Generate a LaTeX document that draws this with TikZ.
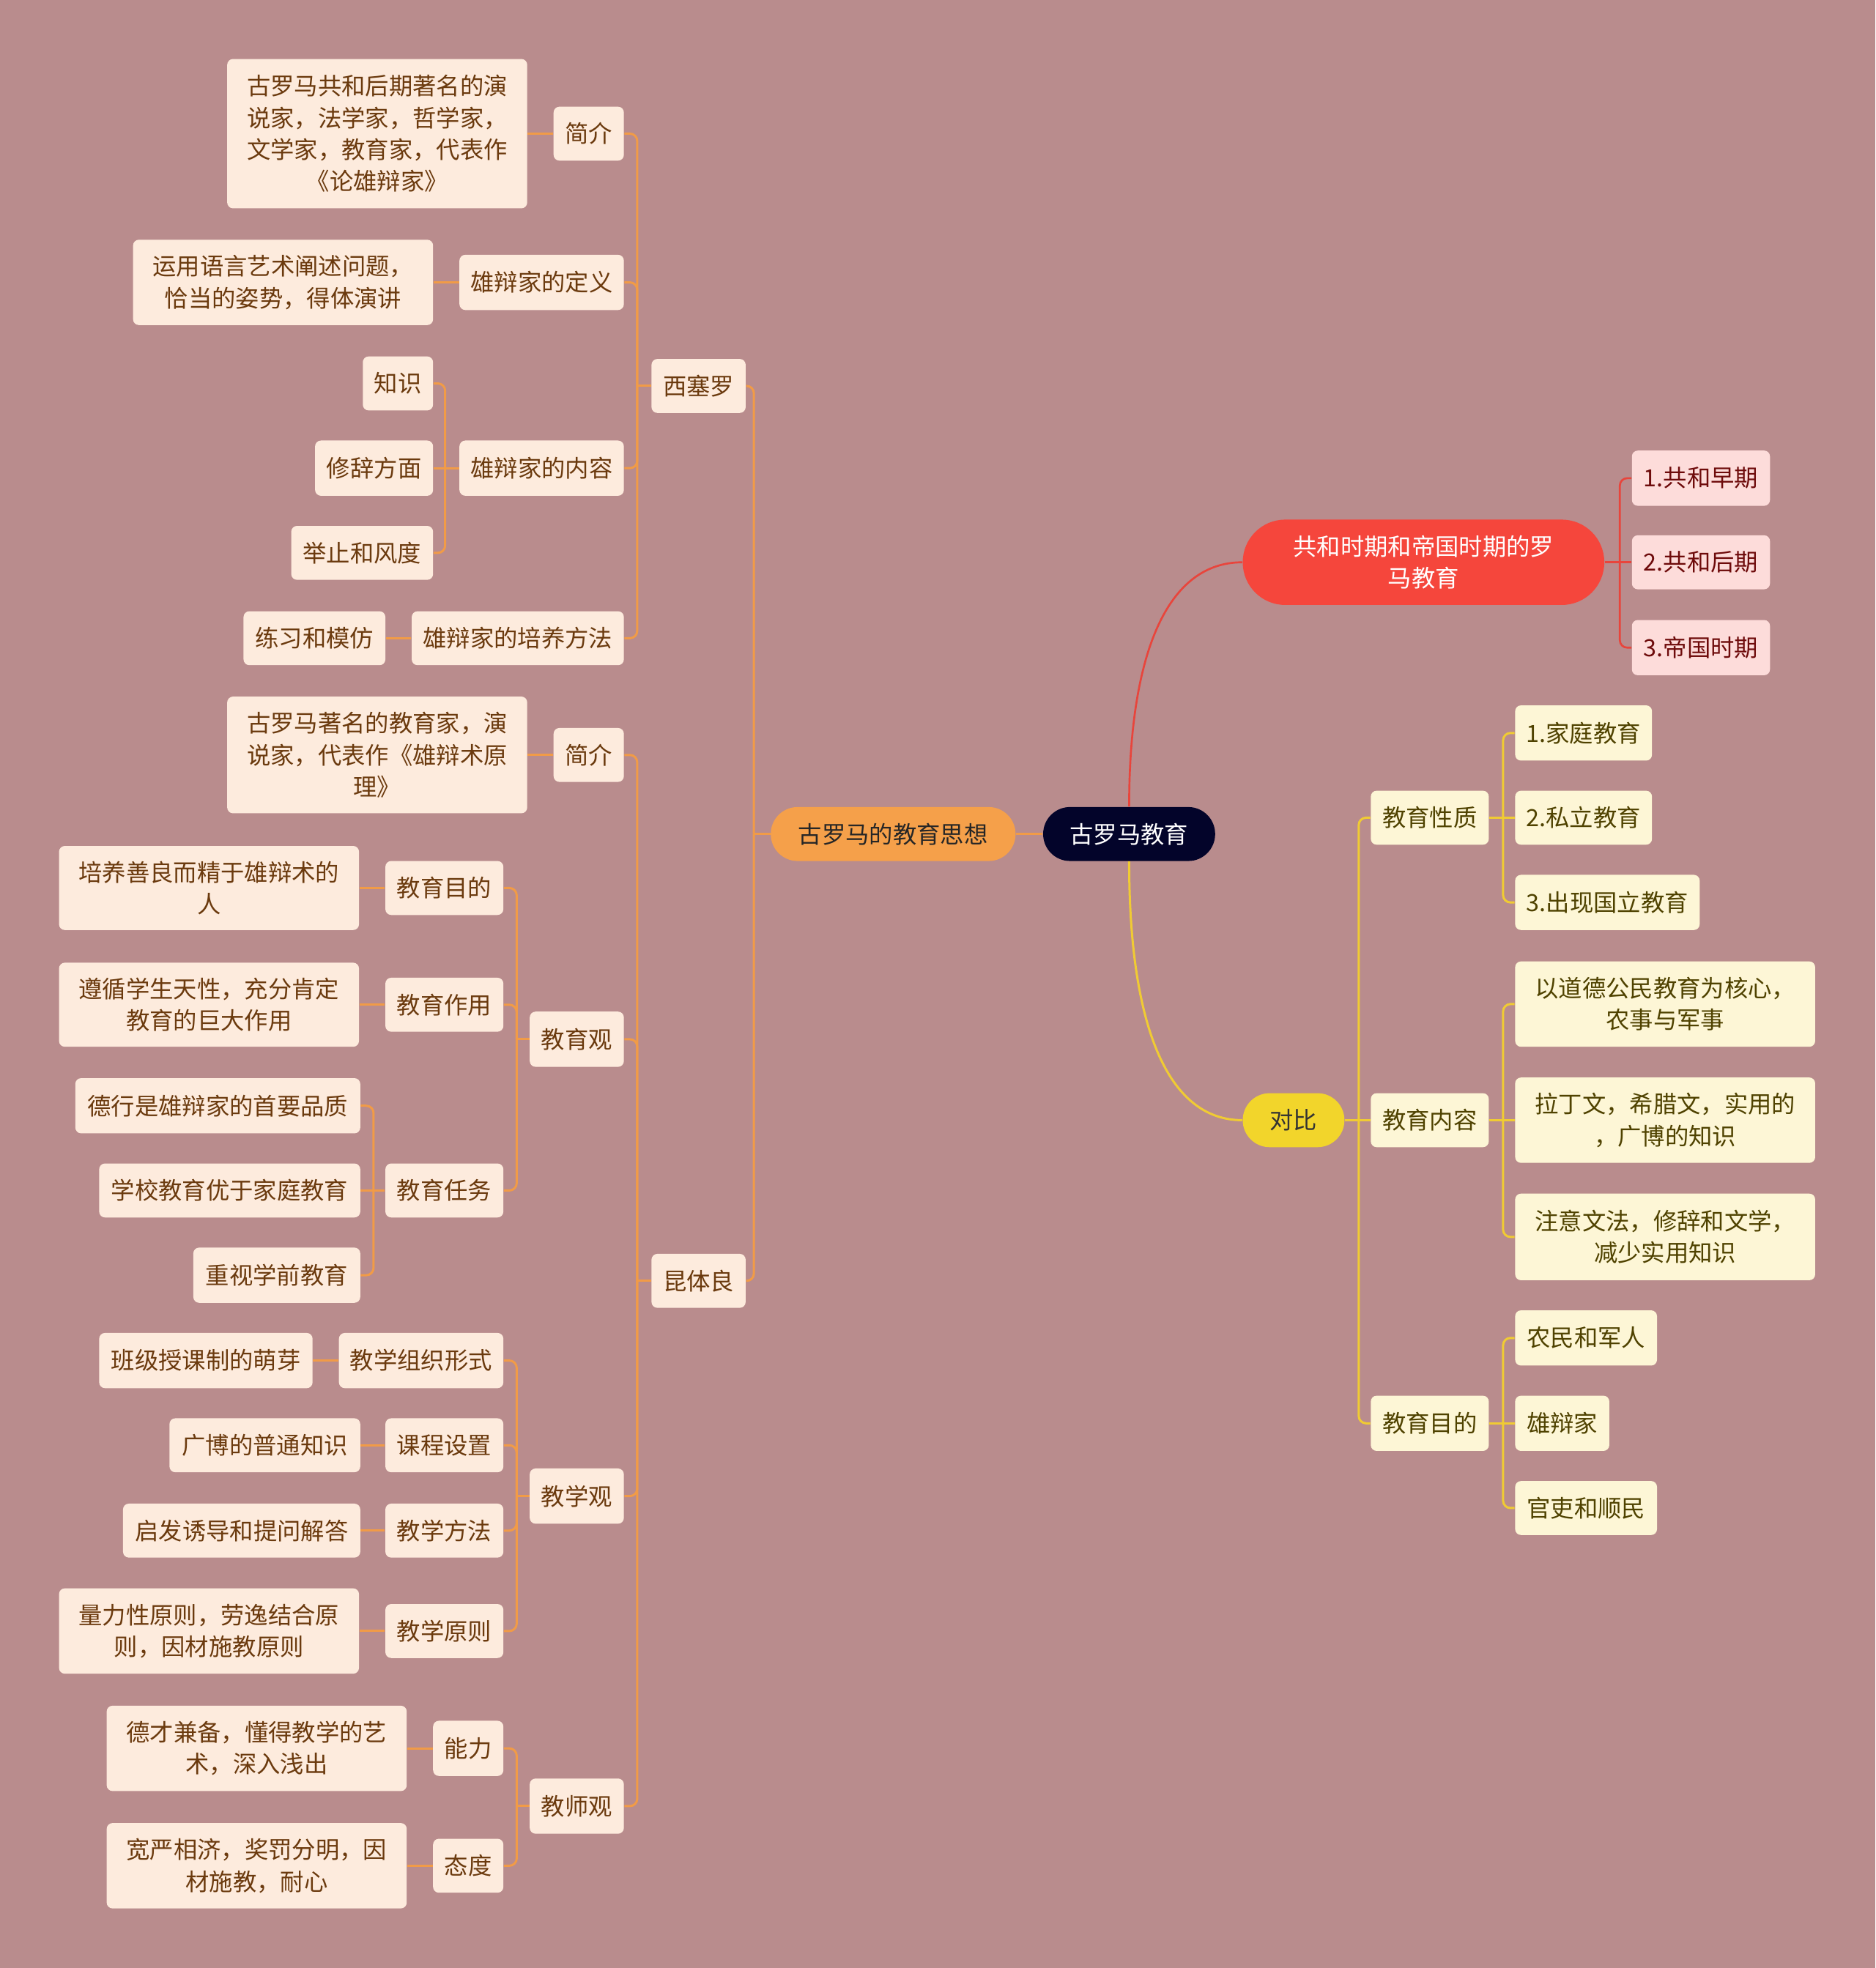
\documentclass[tikz,border=0pt]{standalone}
\usepackage{fontspec}
\setmainfont{Noto Sans CJK SC}
\definecolor{bg}{HTML}{B98C8D}
\definecolor{lfill}{HTML}{FDEBDD}
\definecolor{ltext}{HTML}{6B3A0E}
\definecolor{oline}{HTML}{F19B47}
\definecolor{ofill}{HTML}{F5A04A}
\definecolor{rootfill}{HTML}{03042A}
\definecolor{redfill}{HTML}{F5463C}
\definecolor{redline}{HTML}{E8453C}
\definecolor{rfill}{HTML}{FDDCDA}
\definecolor{rtext}{HTML}{6E0B0B}
\definecolor{yelfill}{HTML}{F2D52B}
\definecolor{yline}{HTML}{F0CB33}
\definecolor{yfill}{HTML}{FDF6D6}
\definecolor{ytext}{HTML}{4F4200}
\tikzset{
  base/.style={inner sep=0pt, align=center, font=\fontsize{9.7}{13}\selectfont},
  sz/.style 2 args={minimum width=#1*0.514pt, minimum height=#2*0.514pt},
  lb/.style={base, fill=lfill, text=ltext, rounded corners=2.4pt},
  rb/.style={base, fill=rfill, text=rtext, rounded corners=2.4pt},
  yb/.style={base, fill=yfill, text=ytext, rounded corners=2.4pt},
  rootn/.style={base, fill=rootfill, text=white, rounded corners=11pt},
  orn/.style={base, fill=ofill, text=black!85, rounded corners=11pt},
  redn/.style={base, fill=redfill, text=white, rounded corners=17.4pt},
  yeln/.style={base, fill=yelfill, text=black!80, rounded corners=11pt},
  lc/.style={draw=oline, line width=0.9pt, rounded corners=3pt},
  rc/.style={draw=redline, line width=0.8pt, rounded corners=3pt},
  yc/.style={draw=yline, line width=0.9pt, rounded corners=3pt},
}
\begin{document}
\begin{tikzpicture}[x=0.514pt,y=-0.514pt]
\fill[bg] (0,0) rectangle (1494,1568);
\useasboundingbox (0,0) rectangle (1494,1568);

% centre
\node[rootn, sz={137}{43}] (root) at (899.5,664.5) {古罗马教育};
\node[orn, sz={195}{43}] (sx) at (711.5,664.5) {古罗马的教育思想};
\node[lb, sz={75}{43}] (xsl) at (556.5,307.5) {西塞罗};
\node[lb, sz={75}{43}] (ktl) at (556.5,1020.5) {昆体良};

% Cicero
\node[lb, sz={56}{43}] (jj1) at (469,106.5) {简介};
\node[lb, sz={131}{44}] (dy) at (431.5,225) {雄辩家的定义};
\node[lb, sz={131}{44}] (nr) at (431.5,373) {雄辩家的内容};
\node[lb, sz={169}{43}] (py) at (412.5,508.5) {雄辩家的培养方法};
\node[lb, sz={239}{119}] (jj1c) at (300.5,106.5) {古罗马共和后期著名的演\\说家，法学家，哲学家，\\文学家，教育家，代表作\\《论雄辩家》};
\node[lb, sz={239}{68}] (dyc) at (225.5,225) {运用语言艺术阐述问题，\\恰当的姿势，得体演讲};
\node[lb, sz={56}{43}] (zs) at (317,305.5) {知识};
\node[lb, sz={94}{44}] (xc) at (298,373) {修辞方面};
\node[lb, sz={113}{43}] (jz) at (288.5,440.5) {举止和风度};
\node[lb, sz={113}{43}] (lx) at (250.5,508.5) {练习和模仿};

% Quintilian
\node[lb, sz={56}{43}] (jj2) at (469,601.5) {简介};
\node[lb, sz={239}{93}] (jj2c) at (300.5,601.5) {古罗马著名的教育家，演\\说家，代表作《雄辩术原\\理》};
\node[lb, sz={75}{44}] (jyg) at (459.5,828) {教育观};
\node[lb, sz={75}{44}] (jxg) at (459.5,1192) {教学观};
\node[lb, sz={75}{44}] (jsg) at (459.5,1439) {教师观};

\node[lb, sz={94}{43}] (mud) at (354,707.5) {教育目的};
\node[lb, sz={239}{67}] (mudc) at (166.5,707.5) {培养善良而精于雄辩术的\\人};
\node[lb, sz={94}{43}] (zy) at (354,800.5) {教育作用};
\node[lb, sz={239}{67}] (zyc) at (166.5,800.5) {遵循学生天性，充分肯定\\教育的巨大作用};
\node[lb, sz={94}{43}] (rw) at (354,948.5) {教育任务};
\node[lb, sz={227}{44}] (rw1) at (173.5,881) {德行是雄辩家的首要品质};
\node[lb, sz={208}{43}] (rw2) at (183,948.5) {学校教育优于家庭教育};
\node[lb, sz={133}{44}] (rw3) at (220.5,1016) {重视学前教育};

\node[lb, sz={131}{44}] (zz) at (335.5,1084) {教学组织形式};
\node[lb, sz={170}{44}] (zzc) at (164,1084) {班级授课制的萌芽};
\node[lb, sz={94}{43}] (kc) at (354,1151.5) {课程设置};
\node[lb, sz={152}{43}] (kcc) at (211,1151.5) {广博的普通知识};
\node[lb, sz={94}{43}] (ff) at (354,1219.5) {教学方法};
\node[lb, sz={189}{43}] (ffc) at (192.5,1219.5) {启发诱导和提问解答};
\node[lb, sz={94}{43}] (yz) at (354,1299.5) {教学原则};
\node[lb, sz={239}{68}] (yzc) at (166.5,1299.5) {量力性原则，劳逸结合原\\则，因材施教原则};

\node[lb, sz={56}{44}] (nl) at (373,1393) {能力};
\node[lb, sz={239}{68}] (nlc) at (204.5,1393) {德才兼备，懂得教学的艺\\术，深入浅出};
\node[lb, sz={56}{43}] (td) at (373,1486.5) {态度};
\node[lb, sz={239}{68}] (tdc) at (204.5,1486.5) {宽严相济，奖罚分明，因\\材施教，耐心};

% right
\node[redn, sz={288}{68}] (gh) at (1134,448) {共和时期和帝国时期的罗\\马教育};
\node[rb, sz={110}{44}] (g1) at (1355,381) {1.共和早期};
\node[rb, sz={110}{43}] (g2) at (1355,448) {2.共和后期};
\node[rb, sz={110}{44}] (g3) at (1355,516) {3.帝国时期};

\node[yeln, sz={81}{43}] (db) at (1030.5,892.5) {对比};
\node[yb, sz={94}{43}] (xz) at (1139,651.5) {教育性质};
\node[yb, sz={94}{43}] (nrR) at (1139,892.5) {教育内容};
\node[yb, sz={94}{44}] (mdR) at (1139,1134) {教育目的};
\node[yb, sz={109}{44}] (x1) at (1261.5,584) {1.家庭教育};
\node[yb, sz={109}{43}] (x2) at (1261.5,651.5) {2.私立教育};
\node[yb, sz={147}{44}] (x3) at (1280.5,719) {3.出现国立教育};
\node[yb, sz={239}{68}] (n1) at (1326.5,800) {以道德公民教育为核心，\\农事与军事};
\node[yb, sz={239}{68}] (n2) at (1326.5,892.5) {拉丁文，希腊文，实用的\\，广博的知识};
\node[yb, sz={239}{69}] (n3) at (1326.5,985.5) {注意文法，修辞和文学，\\减少实用知识};
\node[yb, sz={113}{44}] (m1) at (1263.5,1066) {农民和军人};
\node[yb, sz={75}{44}] (m2) at (1244.5,1134) {雄辩家};
\node[yb, sz={113}{43}] (m3) at (1263.5,1201.5) {官吏和顺民};

% connectors left
\draw[lc] (root.west) -- (sx.east);
\foreach \c in {xsl,ktl} \draw[lc] (\c.east) -| ([xshift=-6.7pt]sx.west);
\draw[lc] ([xshift=-6.7pt]sx.west) -- (sx.west);

\foreach \c in {jj1,dy,nr,py} \draw[lc] (\c.east) -| ([xshift=-5.65pt]xsl.west);
\draw[lc] ([xshift=-5.65pt]xsl.west) -- (xsl.west);
\draw[lc] (jj1c.east) -- (jj1.west);
\draw[lc] (dyc.east) -- (dy.west);
\foreach \c in {zs,jz} \draw[lc] (\c.east) -| ([xshift=-5.65pt]nr.west);
\draw[lc] (xc.east) -- (nr.west);
\draw[lc] (lx.east) -- (py.west);

\foreach \c in {jj2,jyg,jxg,jsg} \draw[lc] (\c.east) -| ([xshift=-5.65pt]ktl.west);
\draw[lc] ([xshift=-5.65pt]ktl.west) -- (ktl.west);
\draw[lc] (jj2c.east) -- (jj2.west);

\foreach \c in {mud,zy,rw} \draw[lc] (\c.east) -| ([xshift=-5.14pt]jyg.west);
\draw[lc] ([xshift=-5.14pt]jyg.west) -- (jyg.west);
\draw[lc] (mudc.east) -- (mud.west);
\draw[lc] (zyc.east) -- (zy.west);
\foreach \c in {rw1,rw3} \draw[lc] (\c.east) -| ([xshift=-4.63pt]rw.west);
\draw[lc] (rw2.east) -- (rw.west);

\foreach \c in {zz,kc,ff,yz} \draw[lc] (\c.east) -| ([xshift=-5.14pt]jxg.west);
\draw[lc] ([xshift=-5.14pt]jxg.west) -- (jxg.west);
\draw[lc] (zzc.east) -- (zz.west);
\draw[lc] (kcc.east) -- (kc.west);
\draw[lc] (ffc.east) -- (ff.west);
\draw[lc] (yzc.east) -- (yz.west);

\foreach \c in {nl,td} \draw[lc] (\c.east) -| ([xshift=-5.14pt]jsg.west);
\draw[lc] ([xshift=-5.14pt]jsg.west) -- (jsg.west);
\draw[lc] (nlc.east) -- (nl.west);
\draw[lc] (tdc.east) -- (td.west);

% connectors right
\draw[rc] (root.north) .. controls (899.5,520) and (930,448) .. (gh.west);
\foreach \c in {g1,g3} \draw[rc] (\c.west) -| ([xshift=6.17pt]gh.east);
\draw[rc] (gh.east) -- (g2.west);

\draw[yc] (root.south) .. controls (899.5,817) and (930,892.5) .. (db.west);
\foreach \c in {xz,mdR} \draw[yc] (\c.west) -| ([xshift=5.65pt]db.east);
\draw[yc] (db.east) -- (nrR.west);
\foreach \c in {x1,x3} \draw[yc] (\c.west) -| ([xshift=5.65pt]xz.east);
\draw[yc] (xz.east) -- (x2.west);
\foreach \c in {n1,n3} \draw[yc] (\c.west) -| ([xshift=5.65pt]nrR.east);
\draw[yc] (nrR.east) -- (n2.west);
\foreach \c in {m1,m3} \draw[yc] (\c.west) -| ([xshift=5.65pt]mdR.east);
\draw[yc] (mdR.east) -- (m2.west);
\end{tikzpicture}
\end{document}
